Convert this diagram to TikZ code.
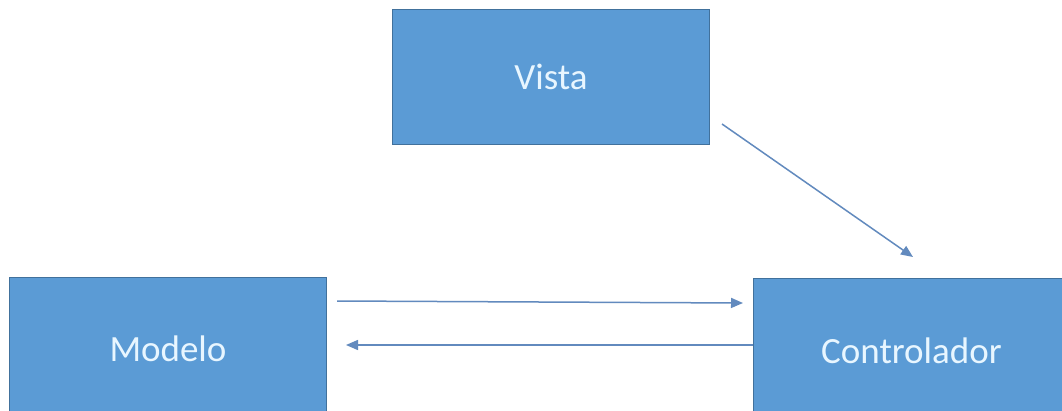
\documentclass[tikz,border=0pt]{standalone}
\usepackage{fontspec}
\setmainfont{Carlito}
\usetikzlibrary{arrows.meta}
\definecolor{boxfill}{HTML}{5B9BD5}
\definecolor{boxline}{HTML}{41719C}
\definecolor{arrowcol}{RGB}{98,138,190}
\definecolor{textcol}{RGB}{232,246,255}
\tikzset{
  block/.style={draw=boxline, line width=1pt, fill=boxfill, anchor=north west,
    inner sep=0pt, text=textcol, font=\fontsize{37}{40}\selectfont},
  link/.style={draw=arrowcol, line width=1.5pt,
    -{Triangle[length=12pt,width=10pt]}}
}
\begin{document}
\begin{tikzpicture}[x=1pt,y=-1pt]
  \useasboundingbox (0,0) rectangle (1062,410);
  \clip (0,0) rectangle (1062,410);
  \fill[white] (0,0) rectangle (1062,410);

  % the three parts of the pattern
  \node[block, minimum width=317pt, minimum height=135pt] (vista) at (392,9) {Vista};
  \node[block, minimum width=317pt, minimum height=142pt] (modelo) at (9,277) {Modelo};
  \node[block, minimum width=316pt, minimum height=144pt] (ctrl) at (753,278) {Controlador};

  % free ends of the connectors
  \coordinate (vOut) at (722,124);
  \coordinate (cIn)  at (913,257);
  \coordinate (mOut) at (337,301);
  \coordinate (cIn2) at (743,303);
  \coordinate (mIn)  at (346,345);

  \draw[link] (vOut) -- (cIn);
  \draw[link] (mOut) -- (cIn2);
  \draw[link] (ctrl.west |- mIn) -- (mIn);
\end{tikzpicture}
\end{document}
